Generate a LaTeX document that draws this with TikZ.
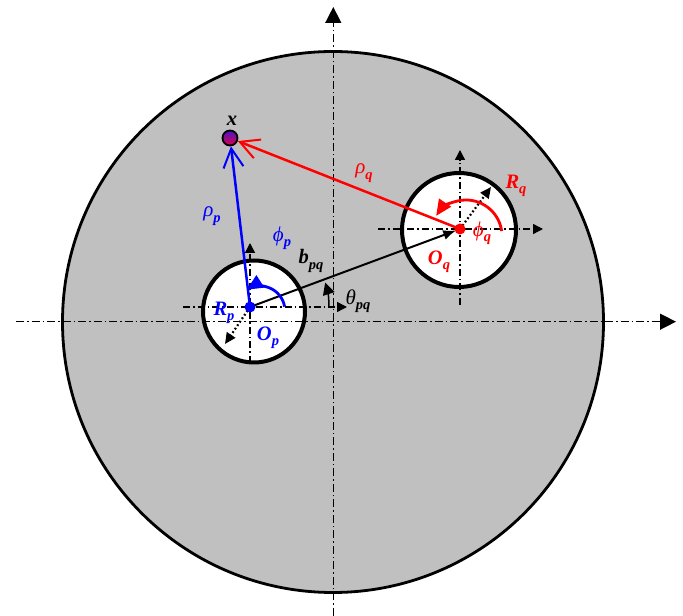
\documentclass[tikz,border=0pt]{standalone}
\usepackage{fontspec}
\setmainfont{Liberation Serif}
\usetikzlibrary{arrows.meta}
\definecolor{plate}{RGB}{192,192,192}
\definecolor{ptop}{RGB}{70,20,200}
\definecolor{pbot}{RGB}{225,0,70}
\newcommand\sbs[1]{\raisebox{-0.55ex}{\fontsize{14.5}{15}\selectfont\bfseries\itshape #1}}
\begin{document}
\begin{tikzpicture}[x=1pt,y=1pt,
  lab/.style={font=\fontsize{20.5}{22}\selectfont\bfseries\itshape, inner sep=0pt},
  glab/.style={font=\fontsize{21}{22}\selectfont\itshape, inner sep=0pt},
  mainaxis/.style={line width=1.5pt, dash pattern=on 8pt off 3pt on 1.5pt off 3pt, -{Triangle[length=16pt,width=16pt]}},
  locaxis/.style={line width=1.4pt, dash pattern=on 7pt off 3pt on 1.5pt off 3pt, -{Triangle[length=10pt,width=10pt]}},
  hole/.style={draw, fill=white, line width=4pt},
  rad/.style={line width=2.2pt, dash pattern=on 1.8pt off 2.4pt, -{Triangle[length=11pt,width=10pt]}},
  rho/.style={line width=2.5pt, -{Straight Barb[length=19pt,width=20pt,line width=2pt]}},
  angarc/.style={line width=2.8pt, -{Triangle[length=16pt,width=14pt]}},
  dot/.style={circle, fill, inner sep=0pt, minimum size=11pt}]
\useasboundingbox (0,0) rectangle (683,616);
% plate and holes
\draw[fill=plate, line width=2.8pt] (333,294) circle[radius=270.5];
\draw[hole] (254,304.5) circle[radius=51];
\draw[hole] (459,386) circle[radius=57];
% named points
\coordinate (Op) at (250,309);
\coordinate (Oq) at (460,387);
\node[circle, draw, line width=1.8pt, top color=ptop, bottom color=pbot, minimum size=15pt, inner sep=0pt] (X) at (230,478) {};
% main axes
\coordinate (hL) at (16,294.3);
\coordinate (hR) at (676,294.3);
\coordinate (vB) at (333.3,0);
\coordinate (vT) at (333.3,609);
\draw[mainaxis] (hL) -- (hR);
\draw[mainaxis] (vB) -- (vT);
% local axes
\coordinate (pL) at (183,309);
\coordinate (pR) at (347,309);
\coordinate (pB) at (250,253);
\coordinate (pT) at (250,373);
\coordinate (qL) at (378,387);
\coordinate (qR) at (543,387);
\coordinate (qB) at (460,311);
\coordinate (qT) at (460,466);
\draw[locaxis] (pL) -- (pR);
\draw[locaxis] (pB) -- (pT);
\draw[locaxis] (qL) -- (qR);
\draw[locaxis] (qB) -- (qT);
% radius arrows
\coordinate (Rpe) at (225,272);
\coordinate (Rqe) at (491,429);
\draw[rad] (Op) -- (Rpe);
\draw[rad] (Oq) -- (Rqe);
% b_pq and theta
\draw[line width=2pt, -{Latex[length=13pt,width=10pt]}, shorten >=4pt] (Op) -- (Oq);
\draw[line width=1.5pt, -{Triangle[length=12pt,width=12pt]}] (Op) ++(79,0) arc[start angle=0, end angle=18, radius=79];
% rho lines
\draw[rho, blue] (Op) -- (X);
\draw[rho, red] (Oq) -- (X);
% angle arcs
\draw[angarc, blue] (260,305) ++(10:25) arc[start angle=10, end angle=122, radius=25];
\draw[angarc, red] (466,380) ++(8:36) arc[start angle=8, end angle=146, radius=36];
% centre dots
\node[dot, blue] (dp) at (Op) {};
\node[dot, red] (dq) at (Oq) {};
% labels
\node[lab] (lx) at (232,495) {x};
\node[glab, blue] (lrp) at (212,400) {ρ\sbs{p}};
\node[glab, blue] (lphp) at (282,378) {ϕ\sbs{p}};
\node[lab] (lb) at (311,355) {b\sbs{pq}};
\node[glab] (lth) at (358,315) {θ\sbs{pq}};
\node[lab, blue] (lRp) at (224,303) {R\sbs{p}};
\node[lab, blue] (lOp) at (268,278) {O\sbs{p}};
\node[glab, red] (lrq) at (364,443) {ρ\sbs{q}};
\node[lab, red] (lRq) at (516,430) {R\sbs{q}};
\node[glab, red] (lphq) at (482,383) {ϕ\sbs{q}};
\node[lab, red] (lOq) at (439,354) {O\sbs{q}};
\end{tikzpicture}
\end{document}
